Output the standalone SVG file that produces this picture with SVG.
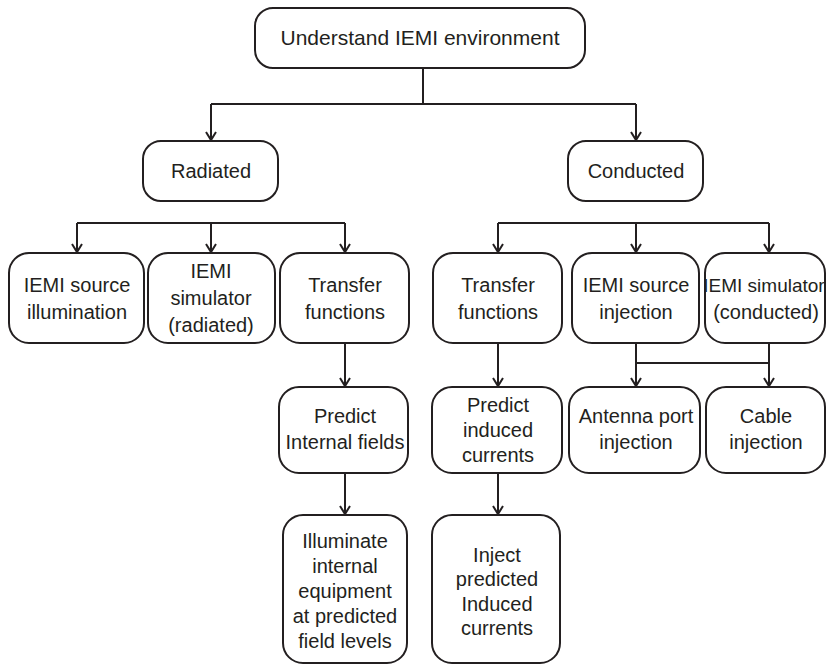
<svg xmlns="http://www.w3.org/2000/svg" width="826" height="665" viewBox="0 0 826 665">
  <style>
    .box { fill: #ffffff; stroke: #231f20; stroke-width: 2; }
    .wire { fill: none; stroke: #231f20; stroke-width: 2; }
    text { font-family: "Liberation Sans", Arial, sans-serif; font-size: 20px; fill: #231f20; text-anchor: middle; }
    .title { font-size: 21px; }
    .tight { font-size: 19px; }
  </style>
  <defs>
    <marker id="arrow" markerUnits="userSpaceOnUse" markerWidth="14" markerHeight="14" viewBox="-10 -7 12 14" refX="0" refY="0" orient="auto">
      <path d="M-8,-5 L0,0 L-8,5" fill="none" stroke="#231f20" stroke-width="2"/>
    </marker>
  </defs>
  <rect width="826" height="665" fill="#ffffff"/>

  <!-- connectors -->
  <g id="connectors">
    <path class="wire" d="M423,68 V104 M211,104 H636"/>
    <path class="wire" d="M211,104 V140" marker-end="url(#arrow)"/>
    <path class="wire" d="M636,104 V140" marker-end="url(#arrow)"/>

    <path class="wire" d="M77,223 H345"/>
    <path class="wire" d="M77,223 V252" marker-end="url(#arrow)"/>
    <path class="wire" d="M211,223 V252" marker-end="url(#arrow)"/>
    <path class="wire" d="M345,223 V252" marker-end="url(#arrow)"/>

    <path class="wire" d="M498,223 H769"/>
    <path class="wire" d="M498,223 V252" marker-end="url(#arrow)"/>
    <path class="wire" d="M636,223 V252" marker-end="url(#arrow)"/>
    <path class="wire" d="M769,223 V252" marker-end="url(#arrow)"/>

    <path class="wire" d="M345,343 V386" marker-end="url(#arrow)"/>
    <path class="wire" d="M498,343 V386" marker-end="url(#arrow)"/>

    <path class="wire" d="M636,343 V386" marker-end="url(#arrow)"/>
    <path class="wire" d="M769,343 V386" marker-end="url(#arrow)"/>
    <path class="wire" d="M636,363 H769"/>

    <path class="wire" d="M345,473 V514" marker-end="url(#arrow)"/>
    <path class="wire" d="M498,473 V514" marker-end="url(#arrow)"/>
  </g>

  <!-- level 1 -->
  <g id="understand">
    <rect class="box" x="255" y="8" width="330" height="60" rx="18"/>
    <text class="title" x="420" y="45">Understand IEMI environment</text>
  </g>

  <!-- level 2 -->
  <g id="radiated">
    <rect class="box" x="143" y="141" width="135" height="60" rx="18"/>
    <text x="211" y="178">Radiated</text>
  </g>
  <g id="conducted">
    <rect class="box" x="568" y="141" width="135" height="60" rx="18"/>
    <text x="636" y="178">Conducted</text>
  </g>

  <!-- level 3, radiated branch -->
  <g id="source-illumination">
    <rect class="box" x="9" y="253" width="135" height="90" rx="20"/>
    <text x="77" y="292">IEMI source</text>
    <text x="77" y="319">illumination</text>
  </g>
  <g id="simulator-radiated">
    <rect class="box" x="148" y="253" width="127" height="90" rx="20"/>
    <text x="211" y="278">IEMI</text>
    <text x="211" y="305">simulator</text>
    <text x="211" y="332">(radiated)</text>
  </g>
  <g id="transfer-radiated">
    <rect class="box" x="280" y="253" width="129" height="90" rx="20"/>
    <text x="345" y="292">Transfer</text>
    <text x="345" y="319">functions</text>
  </g>

  <!-- level 3, conducted branch -->
  <g id="transfer-conducted">
    <rect class="box" x="433" y="253" width="129" height="90" rx="20"/>
    <text x="498" y="292">Transfer</text>
    <text x="498" y="319">functions</text>
  </g>
  <g id="source-injection">
    <rect class="box" x="572" y="253" width="127" height="90" rx="20"/>
    <text x="636" y="292">IEMI source</text>
    <text x="636" y="319">injection</text>
  </g>
  <g id="simulator-conducted">
    <rect class="box" x="705" y="253" width="120" height="90" rx="20"/>
    <text class="tight" x="764" y="292">IEMI simulator</text>
    <text x="766" y="319">(conducted)</text>
  </g>

  <!-- level 4 -->
  <g id="predict-fields">
    <rect class="box" x="279" y="387" width="129" height="86" rx="20"/>
    <text x="345" y="423">Predict</text>
    <text x="345" y="449">Internal fields</text>
  </g>
  <g id="predict-currents">
    <rect class="box" x="432" y="387" width="130" height="86" rx="20"/>
    <text x="498" y="412">Predict</text>
    <text x="498" y="437">induced</text>
    <text x="498" y="462">currents</text>
  </g>
  <g id="antenna-port">
    <rect class="box" x="569" y="387" width="131" height="86" rx="20"/>
    <text x="636" y="423">Antenna port</text>
    <text x="636" y="449">injection</text>
  </g>
  <g id="cable-injection">
    <rect class="box" x="706" y="387" width="119" height="86" rx="20"/>
    <text x="766" y="423">Cable</text>
    <text x="766" y="449">injection</text>
  </g>

  <!-- level 5 -->
  <g id="illuminate">
    <rect class="box" x="283" y="515" width="124" height="148" rx="20"/>
    <text x="345" y="548">Illuminate</text>
    <text x="345" y="573">internal</text>
    <text x="345" y="598">equipment</text>
    <text x="345" y="623">at predicted</text>
    <text x="345" y="648">field levels</text>
  </g>
  <g id="inject-currents">
    <rect class="box" x="432" y="515" width="128" height="148" rx="20"/>
    <text x="497" y="562">Inject</text>
    <text x="497" y="586">predicted</text>
    <text x="497" y="611">Induced</text>
    <text x="497" y="635">currents</text>
  </g>
</svg>
